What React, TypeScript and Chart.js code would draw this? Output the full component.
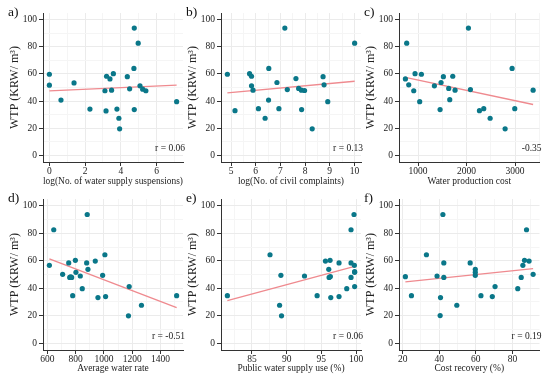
import React, { useEffect, useRef } from 'react';
import { Chart, registerables } from 'chart.js';
Chart.register(...registerables);

// ---------- data ----------
const suspX = [0, 0, 0.65, 1.38, 2.27, 3.11, 3.17, 3.2, 3.39, 3.48, 3.58, 3.78, 3.89, 3.93, 4.36, 4.49, 4.75, 4.73, 4.75, 4.97, 5.07, 5.22, 5.4, 7.12];
const suspY = [59.8, 51.7, 40.7, 53.4, 34.1, 47.6, 32.7, 58.3, 56.3, 48.0, 60.2, 34.1, 27.3, 19.5, 58.0, 49.0, 93.9, 64.1, 33.7, 82.7, 51.2, 48.8, 47.6, 39.5];

const complX = [4.85, 5.16, 5.75, 5.83, 5.83, 5.89, 6.11, 6.38, 6.53, 6.52, 6.86, 6.94, 7.18, 7.28, 7.63, 7.74, 7.85, 7.98, 7.86, 8.29, 8.73, 8.77, 8.92, 10.01];
const complY = [59.8, 32.9, 60.2, 58.3, 51.2, 48.0, 34.4, 27.3, 64.1, 40.7, 53.7, 34.4, 93.9, 48.5, 56.6, 49.3, 48.0, 47.8, 33.7, 19.5, 58.0, 52.0, 39.5, 82.7];

const costX = [766, 739, 808, 911, 938, 1069, 1034, 1337, 1454, 1474, 1522, 1632, 1653, 1715, 1763, 2038, 2079, 2265, 2354, 2485, 2794, 2938, 2993, 3371];
const costY = [82.7, 56.3, 52.0, 47.6, 60.2, 59.8, 39.5, 51.2, 33.7, 53.7, 58.0, 49.3, 41.0, 58.3, 48.0, 93.9, 48.5, 32.9, 34.4, 27.3, 19.5, 64.1, 34.4, 48.0];

const rateX = [614, 645, 708, 751, 758, 772, 765, 779, 798, 802, 833, 847, 878, 882, 887, 939, 958, 991, 1007, 1012, 1179, 1174, 1266, 1515];
const rateY = [56.7, 82.6, 50.1, 58.4, 47.9, 47.9, 48.2, 34.6, 60.3, 51.6, 48.9, 39.7, 58.4, 93.7, 53.8, 59.8, 33.2, 49.4, 64.4, 33.9, 41.2, 19.9, 27.6, 34.6];

const publicX = [81.45, 87.6, 89.17, 88.98, 89.26, 92.57, 94.39, 95.59, 96.26, 96.07, 96.12, 96.3, 96.36, 97.55, 97.55, 98.66, 99.28, 99.28, 99.28, 99.71, 99.76, 99.8, 99.8, 99.8];
const publicY = [34.6, 64.4, 49.4, 27.6, 19.9, 48.9, 34.6, 59.8, 60.3, 53.8, 47.9, 48.5, 33.2, 58.4, 33.9, 39.7, 47.9, 82.6, 58.4, 93.7, 56.7, 52.1, 51.6, 41.2];

const recovX = [21.5, 24.8, 33.0, 38.8, 40.7, 40.5, 42.0, 42.5, 42.5, 49.6, 56.9, 59.7, 59.7, 59.7, 62.8, 69.0, 70.5, 82.9, 84.8, 85.7, 86.6, 87.7, 89.1, 91.3];
const recovY = [48.4, 34.6, 64.4, 48.9, 33.2, 20.1, 93.7, 58.4, 47.9, 27.6, 58.4, 53.8, 51.6, 49.4, 34.6, 33.9, 41.2, 39.7, 47.9, 56.7, 60.3, 82.6, 59.8, 50.1];

const yTicks = [0, 20, 40, 60, 80, 100];
const suspTicks = [0, 2, 4, 6];
const complTicks = [5, 6, 7, 8, 9, 10];
const costTicks = [1000, 2000, 3000];
const rateTicks = [600, 800, 1000, 1200, 1400];
const publicTicks = [85, 90, 95, 100];
const recovTicks = [20, 40, 60, 80];

const yTitle = 'WTP (KRW/ m\u00b3)';
const xTitles = [
  'log(No. of water supply suspensions)',
  'log(No. of civil complaints)',
  'Water production cost',
  'Average water rate',
  'Public water supply use (%)',
  'Cost recovery (%)',
];
const panelLetters = ['a)', 'b)', 'c)', 'd)', 'e)', 'f)'];
const rLabels = ['r = 0.06', 'r = 0.13', '-0.35', 'r = -0.51', 'r = 0.06', 'r = 0.19'];

// ---------- layout ----------
const FONT = '"Liberation Serif", "Times New Roman", serif';
const POINT = '#0a7789';
const FITLINE = '#ef8a8f';

const cols = [
  { left: 0, width: 192, padRight: 9 },
  { left: 178, width: 190, padRight: 7 },
  { left: 356, width: 194, padRight: 10.5 },
];
const rows = [
  { top: 0, height: 190, xh: 28, tpb: 2.5 },
  { top: 186, height: 193, xh: 29, tpb: 5.2 },
];

const panels = [
  { xs: suspX, ys: suspY, ticks: suspTicks, col: 0, row: 0 },
  { xs: complX, ys: complY, ticks: complTicks, col: 1, row: 0 },
  { xs: costX, ys: costY, ticks: costTicks, col: 2, row: 0 },
  { xs: rateX, ys: rateY, ticks: rateTicks, col: 0, row: 1 },
  { xs: publicX, ys: publicY, ticks: publicTicks, col: 1, row: 1 },
  { xs: recovX, ys: recovY, ticks: recovTicks, col: 2, row: 1 },
];

function linFit(xs: number[], ys: number[]) {
  const n = xs.length;
  const mx = xs.reduce((a, b) => a + b, 0) / n;
  const my = ys.reduce((a, b) => a + b, 0) / n;
  let sxy = 0, sxx = 0;
  for (let i = 0; i < n; i++) {
    sxy += (xs[i] - mx) * (ys[i] - my);
    sxx += (xs[i] - mx) * (xs[i] - mx);
  }
  const b = sxy / sxx;
  const a = my - b * mx;
  const lo = Math.min(...xs), hi = Math.max(...xs);
  return [{ x: lo, y: a + b * lo }, { x: hi, y: a + b * hi }];
}

function withMinors(majors: number[], lo: number, hi: number) {
  const step = majors[1] - majors[0];
  const out: { value: number; major: boolean }[] = [];
  const first = majors[0] - step / 2;
  for (let v = first; v <= majors[majors.length - 1] + step / 2 + 1e-9; v += step / 2) {
    if (v < lo || v > hi) continue;
    const major = majors.some((m) => Math.abs(m - v) < 1e-9);
    out.push({ value: v, major });
  }
  return out;
}

const annotPlugin = {
  id: 'annot',
  afterDraw(chart: any, _args: any, opts: any) {
    const { ctx, chartArea, scales } = chart;
    ctx.save();
    ctx.fillStyle = '#111';
    ctx.textBaseline = 'middle';
    ctx.textAlign = 'left';
    ctx.font = `13.5px ${FONT}`;
    ctx.fillText(opts.letter, chartArea.left - 35, chartArea.top - 1);
    ctx.font = `9.5px ${FONT}`;
    ctx.fillStyle = '#222';
    ctx.textAlign = 'right';
    ctx.fillText(opts.r, chartArea.right + 2, scales.y.getPixelForValue(5));
    ctx.restore();
  },
};

function Panel({ idx }: { idx: number }) {
  const ref = useRef<HTMLCanvasElement | null>(null);
  const p = panels[idx];
  const c = cols[p.col];
  const r = rows[p.row];

  useEffect(() => {
    if (!ref.current) return;
    const lo = Math.min(...p.xs), hi = Math.max(...p.xs);
    const ext = (hi - lo) * 0.05;
    const xmin = lo - ext, xmax = hi + ext;
    const xTickObjs = withMinors(p.ticks, xmin, xmax);
    const yTickObjs = withMinors(yTicks, -5, 105);
    const pts = p.xs.map((x, i) => ({ x, y: p.ys[i] }));
    const fit = linFit(p.xs, p.ys);
    const isMajorX = (v: number) => p.ticks.some((m) => Math.abs(m - v) < 1e-9);
    const isMajorY = (v: number) => yTicks.some((m) => Math.abs(m - v) < 1e-9);

    const chart = new Chart(ref.current, {
      type: 'scatter',
      data: {
        datasets: [
          {
            data: pts,
            backgroundColor: POINT,
            borderWidth: 0,
            pointRadius: 2.6,
            pointHoverRadius: 2.6,
          },
          {
            data: fit,
            showLine: true,
            borderColor: FITLINE,
            borderWidth: 1.3,
            pointRadius: 0,
            pointHoverRadius: 0,
          } as any,
        ],
      },
      options: {
        responsive: false,
        animation: false,
        events: [],
        layout: { padding: { top: 13, left: 0, right: c.padRight, bottom: 0 } },
        plugins: {
          legend: { display: false },
          tooltip: { enabled: false },
          annot: { letter: panelLetters[idx], r: rLabels[idx] },
        } as any,
        scales: {
          x: {
            type: 'linear',
            min: xmin,
            max: xmax,
            afterBuildTicks: (axis: any) => {
              axis.ticks = xTickObjs.map((t) => ({ value: t.value }));
            },
            afterFit: (scale: any) => {
              scale.height = r.xh;
            },
            grid: {
              color: (ctx: any) => (ctx.tick && isMajorX(ctx.tick.value) ? '#ebebeb' : '#f5f5f5'),
              tickColor: (ctx: any) => (ctx.tick && isMajorX(ctx.tick.value) ? '#333' : 'rgba(0,0,0,0)'),
              tickLength: 4,
              lineWidth: 1,
            },
            border: { display: true, color: '#333', width: 1 },
            ticks: {
              autoSkip: false,
              maxRotation: 0,
              padding: 0,
              color: '#222',
              font: { family: FONT, size: 9.5 },
              callback: (v: any) => (isMajorX(Number(v)) ? String(v) : ''),
            },
            title: {
              display: true,
              text: xTitles[idx],
              color: '#222',
              font: { family: FONT, size: 9.5 },
              padding: { top: 0, bottom: r.tpb },
            },
          },
          y: {
            type: 'linear',
            min: -5,
            max: 105,
            afterBuildTicks: (axis: any) => {
              axis.ticks = yTickObjs.map((t) => ({ value: t.value }));
            },
            afterFit: (scale: any) => {
              scale.width = 43;
            },
            grid: {
              color: (ctx: any) => (ctx.tick && isMajorY(ctx.tick.value) ? '#ebebeb' : '#f5f5f5'),
              tickColor: (ctx: any) => (ctx.tick && isMajorY(ctx.tick.value) ? '#333' : 'rgba(0,0,0,0)'),
              tickLength: 4,
              lineWidth: 1,
            },
            border: { display: true, color: '#333', width: 1 },
            ticks: {
              autoSkip: false,
              padding: 2,
              color: '#222',
              font: { family: FONT, size: 9.5 },
              callback: (v: any) => (isMajorY(Number(v)) ? String(v) : ''),
            },
            title: {
              display: true,
              text: yTitle,
              color: '#222',
              font: { family: FONT, size: 12 },
              padding: { top: 8, bottom: 0 },
            },
          },
        },
      } as any,
      plugins: [annotPlugin as any],
    });
    return () => chart.destroy();
  }, []);

  return (
    <canvas
      ref={ref}
      width={c.width}
      height={r.height}
      style={{ position: 'absolute', left: c.left, top: r.top, width: c.width, height: r.height }}
    />
  );
}

export default function App() {
  return (
    <div style={{ position: 'fixed', left: 0, top: 0, width: 550, height: 379, background: '#fff', overflow: 'hidden' }}>
      {panels.map((_, i) => (
        <Panel key={i} idx={i} />
      ))}
    </div>
  );
}
